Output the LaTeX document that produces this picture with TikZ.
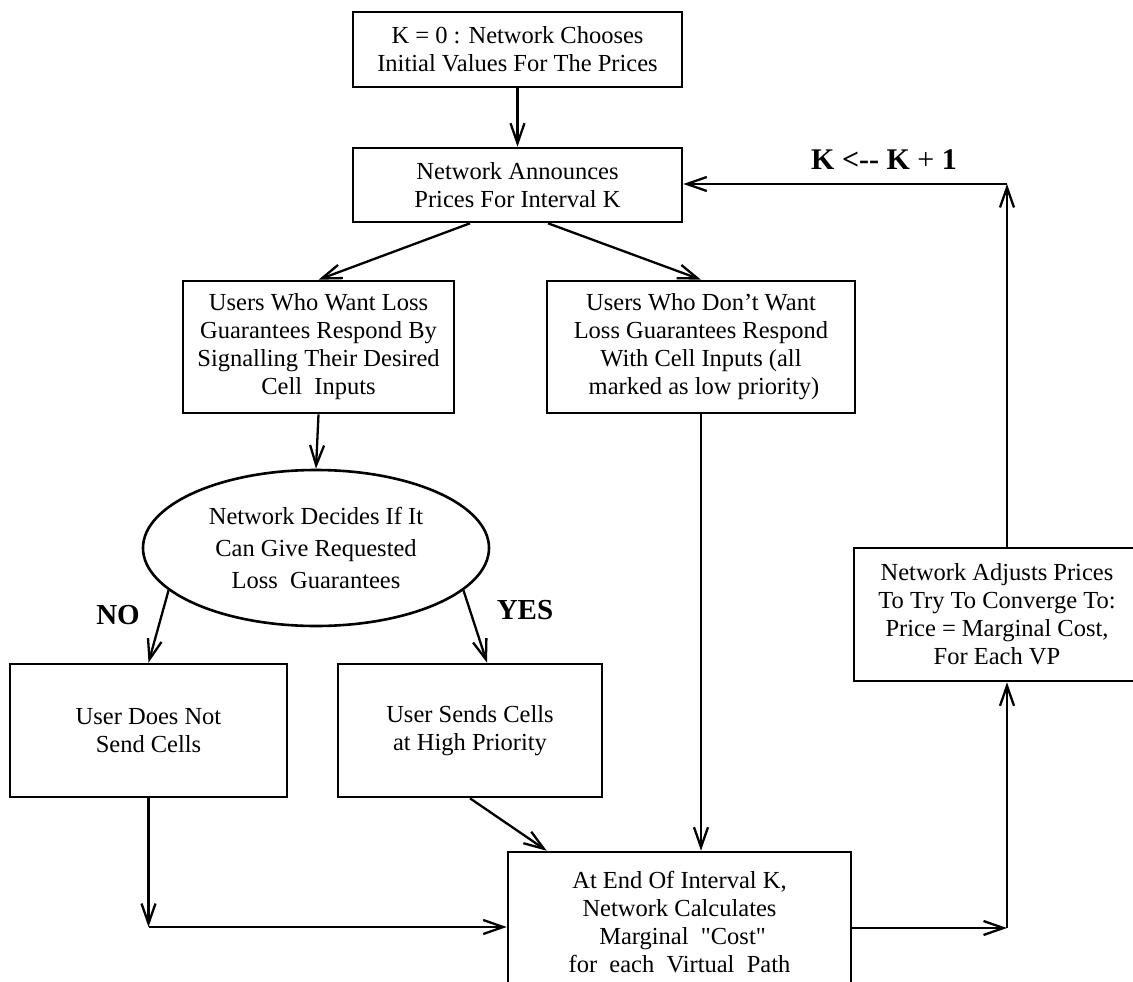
\documentclass[tikz,border=0pt]{standalone}
\usepackage{fontspec}
\setmainfont{Liberation Serif}
\newfontfamily\rawfont{Liberation Serif}[Ligatures=TeXOff]
\usetikzlibrary{arrows.meta,shapes.geometric,calc}
\begin{document}
\begin{tikzpicture}[x=1pt,y=-1pt,
  box/.style={draw,line width=2.6pt,rectangle,align=center,inner sep=0pt,font=\fontsize{24.5}{28}\selectfont},
  dec/.style={draw,line width=2.6pt,ellipse,align=center,inner sep=0pt,font=\fontsize{24.5}{32}\selectfont},
  arr/.style={line width=2.3pt,-{Straight Barb[length=20pt,width=14pt,line width=2.3pt]}},
  lbl/.style={font=\fontsize{29}{34}\selectfont\bfseries}]
\useasboundingbox (0,0) rectangle (1133,982);
\clip (0,0) rectangle (1133,982);
% boxes
\node[box,minimum width=329pt,minimum height=75pt] (b1) at (517.5,49.5) {K = 0 : Network Chooses\\Initial Values For The Prices};
\node[box,minimum width=329pt,minimum height=74pt] (b2) at (517.5,185) {Network Announces\\Prices For Interval K};
\node[box,minimum width=271pt,minimum height=132pt] (b3) at (318.5,347) {Users Who Want Loss\\Guarantees Respond By\\Signalling Their Desired\\Cell\ \ Inputs};
\node[box,minimum width=308pt,minimum height=132pt] (b4) at (701,347) {Users Who Don't Want\\Loss Guarantees Respond\\With Cell Inputs (all\\\ marked as low priority)};
\node[dec,minimum width=346pt,minimum height=156pt] (ell) at (316,548) {Network Decides If It\\Can Give Requested\\Loss\ \ Guarantees};
\node[box,minimum width=277pt,minimum height=133pt] (b5) at (148.5,730.5) {User Does Not\\Send Cells};
\node[box,minimum width=264pt,minimum height=133pt] (b6) at (470,730.5) {User Sends Cells\\at High Priority};
\node[box,minimum width=343pt,minimum height=140pt] (b7) at (679.5,922) {At End Of Interval K,\\Network Calculates\\\ Marginal\ \ {\rawfont "Cost"}\\for\ \ each\ \ Virtual\ \ Path};
\node[box,minimum width=286pt,minimum height=133pt] (b8) at (997,614.5) {Network Adjusts Prices\\To Try To Converge To:\\Price = Marginal Cost,\\For Each VP};
% labels
\node[lbl] (no) at (118,615) {NO};
\node[lbl] (yes) at (525,610) {YES};
\node[font=\fontsize{30}{34}\selectfont] (klbl) at (884,160) {\textbf{K <-{}- K} + \textbf{1}};
% helper coordinates
\coordinate (c1) at (148.5,927);
\coordinate (c2) at (1007,928);
\coordinate (c3) at (1007,184);
% connectors
\draw[arr] (b1.south) -- (b2.north);
\draw[arr] ($(b2.south)+(-47.5,0)$) -- (b3.north);
\draw[arr] ($(b2.south)+(30.5,0)$) -- (b4.north);
\draw[arr] (b3.south) -- (ell.north);
\draw[arr] (ell.196) -- (b5.north);
\draw[arr] (ell.-16) -- ($(b6.north)+(17,0)$);
\draw[arr] (b6.south) -- ($(b7.north west)+(40,0)$);
\draw[arr] (b4.south) -- (b4.south |- b7.north);
\draw[arr] (b5.south) -- (c1);
\draw[arr] (c1) -- (c1 -| b7.west);
\draw[arr] (b7.east |- c2) -- (c2);
\draw[arr] (c2) -- (c2 |- b8.south);
\draw[arr] (c2 |- b8.north) -- (c3);
\draw[arr] (c3) -- (c3 -| b2.east);
\end{tikzpicture}
\end{document}
